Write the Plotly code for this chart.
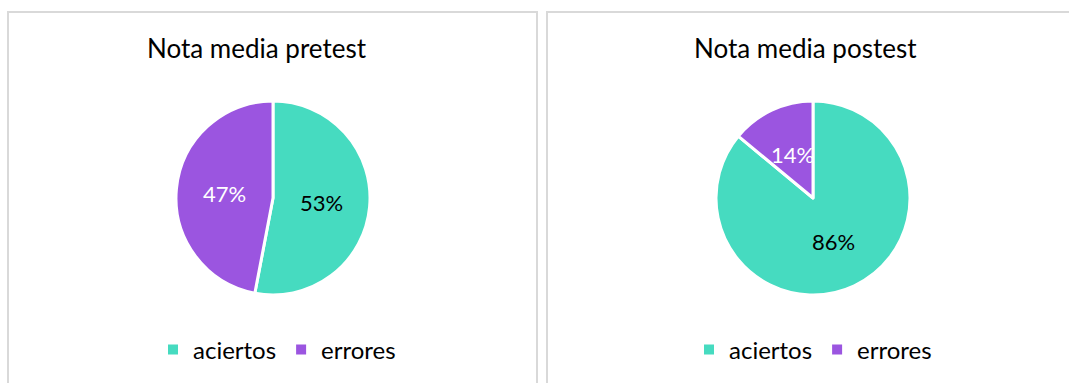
import math
import plotly.graph_objects as go

W, H = 1069, 383
categories = ["aciertos", "errores"]
pretest_values = [53, 47]
postest_values = [86, 14]
titles = ["Nota media pretest", "Nota media postest"]
colors = ["#46DBC0", "#9B55E0"]
text_colors = ["black", "white"]
FONT = "Lato, Calibri, Carlito, sans-serif"

def px(x):
    return x / W

def py(y):
    return 1 - y / H

fig = go.Figure()

pie_boxes = [(176, 370), (716, 910)]
pie_top, pie_bottom = 100, 296
legend_names = ["legend", "legend2"]
for i, vals in enumerate([pretest_values, postest_values]):
    x0, x1 = pie_boxes[i]
    fig.add_trace(go.Pie(
        labels=categories, values=vals, sort=False, direction="clockwise", rotation=0,
        marker=dict(colors=colors, line=dict(color="white", width=3)),
        textinfo="none", showlegend=False,
        domain=dict(x=[px(x0), px(x1)], y=[py(pie_bottom), py(pie_top)]),
        hoverinfo="label+percent",
    ))
    # percent labels at half radius along each slice's mid-angle
    cx = (x0 + x1) / 2
    cy = (pie_top + pie_bottom) / 2
    r = (x1 - x0) / 2
    total = sum(vals)
    cum = 0
    for v, tc in zip(vals, text_colors):
        mid = (cum + v / 2) / total * 2 * math.pi
        cum += v
        lx = cx + 0.5 * r * math.sin(mid)
        ly = cy - 0.5 * r * math.cos(mid)
        fig.add_annotation(text=f"{round(v / total * 100)}%", x=px(lx), y=py(ly), xref="paper", yref="paper",
                           showarrow=False, xanchor="center", yanchor="middle",
                           font=dict(family=FONT, size=22, color=tc))
    # legend entries
    for cat, col in zip(categories, colors):
        fig.add_trace(go.Scatter(x=[None], y=[None], mode="markers", name=cat,
                                 marker=dict(symbol="square", size=10, color=col),
                                 legend=legend_names[i], showlegend=True))

# Panel borders
fig.add_shape(type="rect", xref="paper", yref="paper", x0=px(8), x1=px(537), y0=py(395), y1=py(12),
              line=dict(color="#D9D9D9", width=2), fillcolor="rgba(0,0,0,0)")
fig.add_shape(type="rect", xref="paper", yref="paper", x0=px(547), x1=px(1085), y0=py(395), y1=py(12),
              line=dict(color="#D9D9D9", width=2), fillcolor="rgba(0,0,0,0)")

for cx, t in zip([257, 805], titles):
    fig.add_annotation(text=t, x=px(cx), y=py(48), xref="paper", yref="paper", showarrow=False,
                       xanchor="center", yanchor="middle", font=dict(family=FONT, size=26, color="#000"))

legend_style = dict(orientation="h", xanchor="center", yanchor="middle",
                    font=dict(family=FONT, size=24, color="#000"), bgcolor="rgba(0,0,0,0)",
                    itemclick=False, itemdoubleclick=False, itemwidth=30)
fig.update_layout(
    width=W, height=H, margin=dict(l=0, r=0, t=0, b=0),
    paper_bgcolor="white", plot_bgcolor="white",
    xaxis=dict(visible=False), yaxis=dict(visible=False),
    legend=dict(x=px(277), y=py(350), **legend_style),
    legend2=dict(x=px(813), y=py(350), **legend_style),
    showlegend=True,
)

fig.write_html("out.html")
